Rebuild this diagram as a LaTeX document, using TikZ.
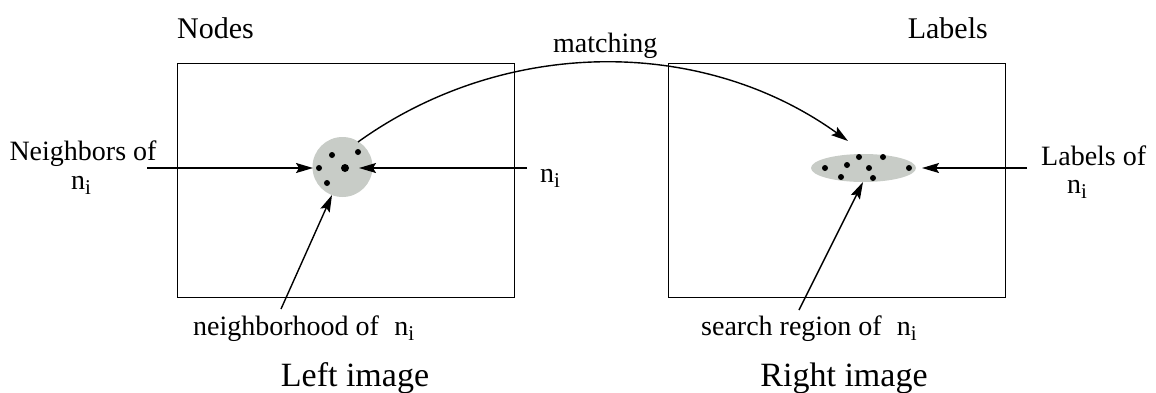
\documentclass[tikz,border=0pt]{standalone}
\usepackage{fontspec}
\setmainfont{Liberation Serif}
\usepackage{graphicx}
\usetikzlibrary{arrows.meta,shapes.geometric}
\definecolor{regfill}{RGB}{200,204,199}
\newcommand\nsubi{n\lower0.2em\hbox{\scalebox{0.75}{i}}}
\begin{document}
\begin{tikzpicture}[x=1pt,y=-1pt,
  lbl/.style={inner sep=0pt, font=\fontsize{28}{30}\selectfont},
  ttl/.style={inner sep=0pt, font=\fontsize{30}{32}\selectfont},
  imgcaption/.style={inner sep=0pt, font=\fontsize{34}{36}\selectfont},
  frame/.style={draw, line width=1.4pt, inner sep=0pt, minimum width=337pt, minimum height=234pt, anchor=north west},
  arr/.style={line width=1.4pt, -{Stealth[length=17pt,width=10pt,inset=3pt]}},
  dot/.style={circle, fill=black, inner sep=0pt, minimum size=6pt},
  bigdot/.style={circle, fill=black, inner sep=0pt, minimum size=8pt}]
\useasboundingbox (0,0) rectangle (1156,392);

% frames
\node[frame] (leftimg) at (177,63) {};
\node[frame] (rightimg) at (668,63) {};

% regions
\node[circle, fill=regfill, inner sep=0pt, minimum size=60pt] (nbh) at (342.5,167) {};
\node[ellipse, fill=regfill, inner sep=0pt, minimum width=105pt, minimum height=28pt] (srch) at (863.5,168) {};

% dots in neighbourhood
\node[dot] (a1) at (332,155) {};
\node[dot] (a2) at (358,152) {};
\node[dot] (a3) at (319,168) {};
\node[bigdot] (a4) at (345,168) {};
\node[dot] (a5) at (327,183) {};

% dots in search region
\node[dot] (b1) at (825,168) {};
\node[dot] (b2) at (847,165) {};
\node[dot] (b3) at (859,157) {};
\node[dot] (b4) at (883,157) {};
\node[dot] (b5) at (869,168) {};
\node[dot] (b6) at (841,177) {};
\node[dot] (b7) at (873,178) {};
\node[dot] (b8) at (909,168) {};

% texts
\node[ttl, anchor=base west] (nodes) at (177,38) {Nodes};
\node[ttl, anchor=base east] (labels) at (988,38) {Labels};
\node[lbl, anchor=base west] (matching) at (553,52) {matching};
\node[lbl, anchor=base] (nbrof) at (83,160) {Neighbors of};
\node[lbl, anchor=base] (nbrn) at (81,189) {\nsubi};
\node[lbl, anchor=base west] (midn) at (540,182) {\nsubi};
\node[lbl, anchor=base west] (labof) at (1041,165) {Labels of};
\node[lbl, anchor=base west] (labn) at (1067,193) {\nsubi};
\node[lbl, anchor=base west] (nbhtxt) at (193,335) {neighborhood of\hspace{0.55em}\nsubi};
\node[lbl, anchor=base west] (srchtxt) at (701,335) {search region of\hspace{0.55em}\nsubi};
\node[imgcaption, anchor=base] (lefttxt) at (355,386) {Left image};
\node[imgcaption, anchor=base] (righttxt) at (844,386) {Right image};

% connector ends
\coordinate (s1) at (147,168);
\coordinate (t1) at (313,168);
\coordinate (s2) at (527,168);
\coordinate (t2) at (359,168);
\coordinate (s3) at (281,309);
\coordinate (t3) at (332,195);
\coordinate (s4) at (1027,168);
\coordinate (t4) at (922,168);
\coordinate (s5) at (799,310);
\coordinate (t5) at (863,182);
\coordinate (m0) at (358,142);
\coordinate (t6) at (848,141);

% connectors
\draw[arr] (s1) -- (t1);
\draw[arr] (s2) -- (t2);
\draw[arr] (s3) -- (t3);
\draw[arr] (s4) -- (t4);
\draw[arr] (s5) -- (t5);
\draw[arr] (m0) .. controls (504,37) and (702,36) .. (t6);
\end{tikzpicture}
\end{document}
